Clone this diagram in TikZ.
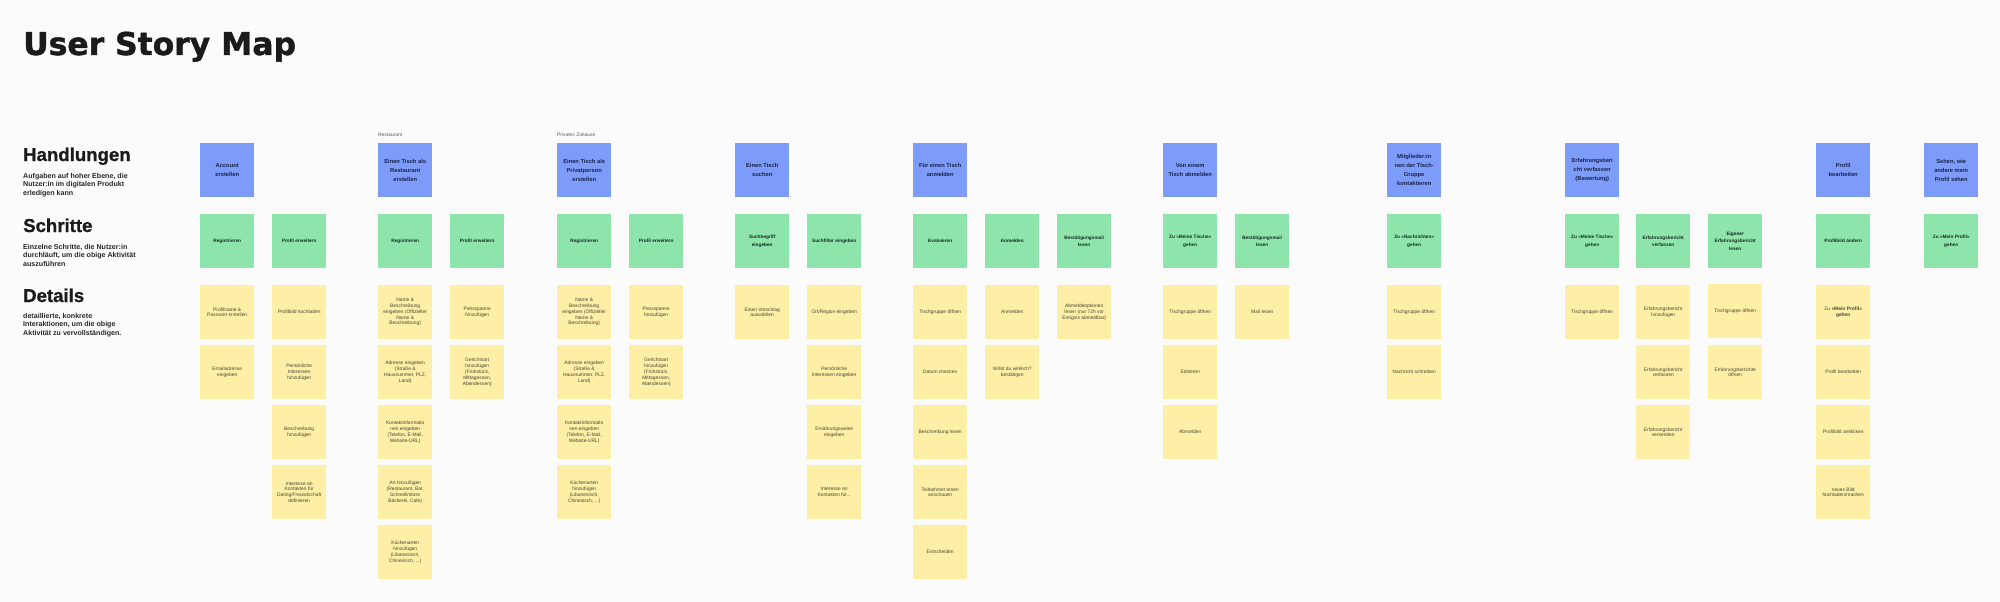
\documentclass[tikz,border=0pt]{standalone}
\usepackage{fontspec}
\setmainfont{Liberation Sans}
\newfontfamily\titlefont{DejaVu Sans Bold}[FakeBold=1.4]
\newfontfamily\headfont{Liberation Sans Bold}[FakeBold=1.0]
\definecolor{cBg}{RGB}{252,251,252}
\definecolor{cBlue}{RGB}{125,156,250}
\definecolor{cBlueT}{RGB}{28,34,72}
\definecolor{cGreen}{RGB}{141,229,172}
\definecolor{cGreenT}{RGB}{22,40,30}
\definecolor{cYellow}{RGB}{253,240,166}
\definecolor{cYellowT}{RGB}{72,68,52}
\definecolor{cHead}{RGB}{27,27,27}
\definecolor{cSub}{RGB}{40,40,40}
\definecolor{cTag}{RGB}{90,90,90}
\tikzset{
  note/.style={anchor=north west, minimum width=54pt, minimum height=54pt, inner sep=1pt, align=center},
  act/.style={note, fill=cBlue, text=cBlueT, font=\fontsize{5.75}{9}\selectfont\bfseries},
  stp/.style={note, fill=cGreen, text=cGreenT, font=\fontsize{4.75}{7.3}\selectfont\bfseries},
  det/.style={note, fill=cYellow, text=cYellowT, font=\fontsize{4.9}{5.8}\selectfont},
  heading/.style={anchor=base west, inner sep=0pt, text=cHead, font=\fontsize{18.6}{22}\selectfont\headfont},
  subtext/.style={anchor=north west, inner sep=0pt, align=left, text=cSub, font=\fontsize{7.1}{8.3}\selectfont\bfseries},
  tag/.style={anchor=west, inner sep=0pt, text=cTag, font=\fontsize{4.9}{6}\selectfont}
}
\begin{document}
\begin{tikzpicture}[x=1pt,y=-1pt]
\fill[cBg] (0,0) rectangle (2000,602);
\useasboundingbox (0,0) rectangle (2000,602);

% title and row labels
\node[anchor=base west, inner sep=0pt, text=cHead, font=\fontsize{31.4}{36}\selectfont\titlefont] (title) at (23,55) {User Story Map};
\node[heading] (hHand) at (23,161) {Handlungen};
\node[subtext] (sHand) at (23,173.3) {Aufgaben auf hoher Ebene, die\\Nutzer:in im digitalen Produkt\\erledigen kann};
\node[heading] (hSchr) at (23,232) {Schritte};
\node[subtext] (sSchr) at (23,244.3) {Einzelne Schritte, die Nutzer:in\\durchläuft, um die obige Aktivität\\auszuführen};
\node[heading] (hDet) at (23,302) {Details};
\node[subtext] (sDet) at (23,313.3) {detaillierte, konkrete\\Interaktionen, um die obige\\Aktivität zu vervollständigen.};

% group 1: Account
\node[act] (a1) at (200,143) {Account\\erstellen};
\node[stp] (s1a) at (200,214) {Registrieren};
\node[det] (d1a1) at (200,285) {Profilname \&\\Passwort erstellen};
\node[det] (d1a2) at (200,345) {Emailadresse\\eingeben};
\node[stp] (s1b) at (272,214) {Profil erweitern};
\node[det] (d1b1) at (272,285) {Profilbild hochladen};
\node[det] (d1b2) at (272,345) {Persönliche\\Interessen\\hinzufügen};
\node[det] (d1b3) at (272,405) {Beschreibung\\hinzufügen};
\node[det] (d1b4) at (272,465) {Interesse an\\Kontakten für\\Dating/Freundschaft\\definieren};

% group 2: Restaurant
\node[tag] (t2) at (378,135) {Restaurant};
\node[act] (a2) at (378,143) {Einen Tisch als\\Restaurant\\erstellen};
\node[stp] (s2a) at (378,214) {Registrieren};
\node[det] (d2a1) at (378,285) {Name \&\\Beschreibung\\eingeben (Offizieller\\Name \&\\Beschreibung)};
\node[det] (d2a2) at (378,345) {Adresse eingeben\\(Straße \&\\Hausnummer, PLZ,\\Land)};
\node[det] (d2a3) at (378,405) {Kontaktinformatio\\nen eingeben\\(Telefon, E-Mail,\\Website-URL)};
\node[det] (d2a4) at (378,465) {Art hinzufügen\\(Restaurant, Bar,\\Schnellimbiss\\Bäckerei, Cafe)};
\node[det] (d2a5) at (378,525) {Küchenarten\\hinzufügen\\(Libanesisch,\\Chinesisch, ...)};
\node[stp] (s2b) at (450,214) {Profil erweitern};
\node[det] (d2b1) at (450,285) {Preisspanne\\hinzufügen};
\node[det] (d2b2) at (450,345) {Gerichtsart\\hinzufügen\\(Frühstück,\\Mittagessen,\\Abendessen)};

% group 3: Privatperson
\node[tag] (t3) at (557,135) {Privates Zuhause};
\node[act] (a3) at (557,143) {Einen Tisch als\\Privatperson\\erstellen};
\node[stp] (s3a) at (557,214) {Registrieren};
\node[det] (d3a1) at (557,285) {Name \&\\Beschreibung\\eingeben (Offizieller\\Name \&\\Beschreibung)};
\node[det] (d3a2) at (557,345) {Adresse eingeben\\(Straße \&\\Hausnummer, PLZ,\\Land)};
\node[det] (d3a3) at (557,405) {Kontaktinformatio\\nen eingeben\\(Telefon, E-Mail,\\Website-URL)};
\node[det] (d3a4) at (557,465) {Küchenarten\\hinzufügen\\(Libanesisch,\\Chinesisch, ...)};
\node[stp] (s3b) at (629,214) {Profil erweitern};
\node[det] (d3b1) at (629,285) {Preisspanne\\hinzufügen};
\node[det] (d3b2) at (629,345) {Gerichtsart\\hinzufügen\\(Frühstück,\\Mittagessen,\\Abendessen)};

% group 4: suchen
\node[act] (a4) at (735,143) {Einen Tisch\\suchen};
\node[stp] (s4a) at (735,214) {Suchbegriff\\eingeben};
\node[det] (d4a1) at (735,285) {Einen Vorschlag\\auswählen};
\node[stp] (s4b) at (807,214) {Suchfilter eingeben};
\node[det] (d4b1) at (807,285) {Ort/Region eingeben};
\node[det] (d4b2) at (807,345) {Persönliche\\Interessen eingeben};
\node[det] (d4b3) at (807,405) {Ernährungsweise\\eingeben};
\node[det] (d4b4) at (807,465) {Interesse an\\Kontakten für...};

% group 5: anmelden
\node[act] (a5) at (913,143) {Für einen Tisch\\anmelden};
\node[stp] (s5a) at (913,214) {Evaluieren};
\node[det] (d5a1) at (913,285) {Tischgruppe öffnen};
\node[det] (d5a2) at (913,345) {Datum checken};
\node[det] (d5a3) at (913,405) {Beschreibung lesen};
\node[det] (d5a4) at (913,465) {Teilnehmer:innen\\anschauen};
\node[det] (d5a5) at (913,525) {Entscheiden};
\node[stp] (s5b) at (985,214) {Anmelden};
\node[det] (d5b1) at (985,285) {Anmelden};
\node[det] (d5b2) at (985,345) {Willst du wirklich?\\bestätigen};
\node[stp] (s5c) at (1057,214) {Bestätigungsmail\\lesen};
\node[det] (d5c1) at (1057,285) {Abmeldeoptionen\\lesen (nur 72h vor\\Ereignis abmeldbar)};

% group 6: abmelden
\node[act] (a6) at (1163,143) {Von einem\\Tisch abmelden};
\node[stp] (s6a) at (1163,214) {Zu «Meine Tische»\\gehen};
\node[det] (d6a1) at (1163,285) {Tischgruppe öffnen};
\node[det] (d6a2) at (1163,345) {Editieren};
\node[det] (d6a3) at (1163,405) {Abmelden};
\node[stp] (s6b) at (1235,214) {Bestätigungsmail\\lesen};
\node[det] (d6b1) at (1235,285) {Mail lesen};

% group 7: kontaktieren
\node[act] (a7) at (1387,143) {Mitglieder:in\\nen der Tisch-\\Gruppe\\kontaktieren};
\node[stp] (s7a) at (1387,214) {Zu «Nachrichten»\\gehen};
\node[det] (d7a1) at (1387,285) {Tischgruppe öffnen};
\node[det] (d7a2) at (1387,345) {Nachricht schreiben};

% group 8: Erfahrungsbericht
\node[act] (a8) at (1565,143) {Erfahrungsberi\\cht verfassen\\(Bewertung)};
\node[stp] (s8a) at (1565,214) {Zu «Meine Tische»\\gehen};
\node[det] (d8a1) at (1565,285) {Tischgruppe öffnen};
\node[stp] (s8b) at (1636,214) {Erfahrungsbericht\\verfassen};
\node[det] (d8b1) at (1636,285) {Erfahrungsbericht\\hinzufügen};
\node[det] (d8b2) at (1636,345) {Erfahrungsbericht\\verfassen};
\node[det] (d8b3) at (1636,405) {Erfahrungsbericht\\versenden};
\node[stp] (s8c) at (1708,214) {Eigener\\Erfahrungsbericht\\lesen};
\node[det] (d8c1) at (1708,284) {Tischgruppe öffnen};
\node[det] (d8c2) at (1708,345) {Erfahrungsberichte\\öffnen};

% group 9: Profil
\node[act] (a9) at (1816,143) {Profil\\bearbeiten};
\node[stp] (s9a) at (1816,214) {Profilbild ändern};
\node[det] (d9a1) at (1816,285) {Zu \textbf{«Mein Profil»}\\\textbf{gehen}};
\node[det] (d9a2) at (1816,345) {Profil bearbeiten};
\node[det] (d9a3) at (1816,405) {Profilbild anklicken};
\node[det] (d9a4) at (1816,465) {neues Bild\\hochladen/machen};
\node[act] (a10) at (1924,143) {Sehen, wie\\andere mein\\Profil sehen};
\node[stp] (s10a) at (1924,214) {Zu «Mein Profil»\\gehen};
\end{tikzpicture}
\end{document}
